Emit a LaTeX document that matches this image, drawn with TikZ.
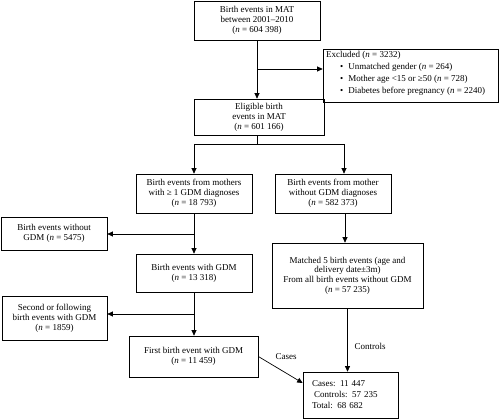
\documentclass[tikz,border=0pt]{standalone}
\usepackage{fontspec}
\setmainfont{Liberation Serif}
\usetikzlibrary{arrows.meta,calc}
\begin{document}
\begin{tikzpicture}[x=1pt,y=-1pt,
  box/.style={draw,line width=0.7pt,align=center,inner sep=2pt,font=\fontsize{9}{10}\selectfont},
  arr/.style={line width=0.7pt,-{Triangle[length=5.5pt,width=5pt]}},
  ln/.style={line width=0.7pt},
  lab/.style={font=\fontsize{9}{10}\selectfont,inner sep=0pt}]
\useasboundingbox (0,0) rectangle (500,419);
\node[box,minimum width=126pt,minimum height=39pt] (b1) at (257,20.5) {Birth events in MAT\\between 2001--2010\\(\textit{n} = 604 398)};
\node[box,minimum width=175pt,minimum height=53pt] (excl) at (410.5,75.5) {};
\node[lab,anchor=north west,align=left,font=\fontsize{9}{11.7}\selectfont] (exclt) at (326,51.5) {Excluded (\textit{n} = 3232)\\
\hspace*{14pt}\textbullet\hspace{5pt}Unmatched gender (\textit{n} = 264)\\
\hspace*{14pt}\textbullet\hspace{5pt}Mother age <15 or ≥50 (\textit{n} = 728)\\
\hspace*{14pt}\textbullet\hspace{5pt}Diabetes before pregnancy (\textit{n} = 2240)};
\node[box,minimum width=130pt,minimum height=36pt] (b2) at (259,117) {Eligible birth\\events in MAT\\(\textit{n} = 601 166)};
\node[box,minimum width=116pt,minimum height=39pt] (b3L) at (194,193.5) {Birth events from mothers\\with ≥ 1 GDM diagnoses\\(\textit{n} = 18 793)};
\node[box,minimum width=116pt,minimum height=39pt] (b3R) at (333,193.5) {Birth events from mother\\without GDM diagnoses\\(\textit{n} = 582 373)};
\node[box,minimum width=106pt,minimum height=33pt] (noGDM) at (54,233.5) {Birth events without\\GDM (\textit{n} = 5475)};
\node[box,minimum width=116pt,minimum height=38pt] (b4) at (194,273) {Birth events with GDM\\(\textit{n} = 13 318)};
\node[box,minimum width=151pt,minimum height=65pt,font=\fontsize{9}{9.6}\selectfont] (matched) at (347.5,275.5) {Matched 5 birth events (age and\\delivery date±3m)\\From all birth events without GDM\\(\textit{n} = 57 235)};
\node[box,minimum width=105pt,minimum height=44pt] (second) at (54.5,318) {Second or following\\birth events with GDM\\(\textit{n} = 1859)};
\node[box,minimum width=129pt,minimum height=41pt] (first) at (193.5,356.5) {First birth event with GDM\\(\textit{n} = 11 459)};
\node[box,minimum width=95pt,minimum height=46pt,align=left,text width=77pt,inner xsep=9pt,font=\fontsize{9}{11}\selectfont] (final) at (350.5,395) {Cases: 11 447\\\hspace*{2pt}Controls: 57 235\\Total: 68 682};
% connectors
\draw[arr] (b1.south) -- (b1.south |- b2.north);
\coordinate (j1) at (257,69);
\draw[arr] (j1) -- (j1 -| excl.west);
\coordinate (j2) at (257,144);
\coordinate (j2l) at (194,144);
\coordinate (j2r) at (344,144);
\draw[ln] (j2 |- b2.south) -- (j2);
\draw[ln] (j2l) -- (j2r);
\draw[arr] (j2l) -- (j2l |- b3L.north);
\draw[arr] (j2r) -- (j2r |- b3R.north);
\draw[arr] ([xshift=12pt]b3R.south) -- ([xshift=12pt]b3R.south |- matched.north);
\draw[arr] (b3L.south) -- (b3L.south |- b4.north);
\coordinate (j3) at (194,234);
\draw[arr] (j3) -- (j3 -| noGDM.east);
\draw[arr] (b4.south) -- (b4.south |- first.north);
\coordinate (j4) at (194,314);
\draw[arr] (j4) -- (j4 -| second.east);
\draw[arr] (first.east) -- ([yshift=12pt]final.west);
\node[lab] (lcases) at (286,357) {Cases};
\draw[arr] (matched.south) -- (matched.south |- final.north);
\node[lab] (lcontrols) at (370,346) {Controls};
\end{tikzpicture}
\end{document}
